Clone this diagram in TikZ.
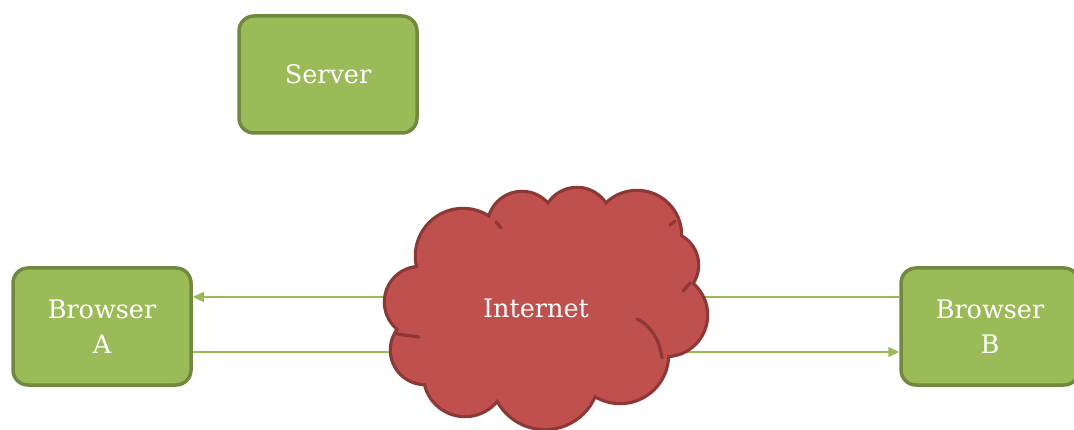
\documentclass[tikz,border=0pt]{standalone}
\usepackage{fontspec}
\setmainfont{DejaVu Serif}
\usetikzlibrary{arrows.meta}
\definecolor{boxfill}{HTML}{9BBB59}
\definecolor{boxline}{HTML}{71893F}
\definecolor{linkline}{HTML}{9BBB59}
\definecolor{cloudfill}{HTML}{C0504D}
\definecolor{cloudline}{HTML}{8C3836}
\tikzset{
  host/.style={draw=boxline, fill=boxfill, line width=3.5pt, rounded corners=15pt,
    minimum width=178pt, minimum height=117pt, text=white, align=center,
    font=\fontsize{25.5}{35}\selectfont},
  label/.style={text=white, font=\fontsize{25.5}{35}\selectfont},
  link/.style={draw=linkline, line width=1.5pt},
  tip/.style={-{Triangle[length=11pt,width=10pt]}},
}
\begin{document}
\begin{tikzpicture}[x=1pt,y=-1pt]
\useasboundingbox (0,0) rectangle (1074,430);
\clip (0,0) rectangle (1074,430);

% hosts
\node[host] (server) at (328,74.5) {Server};
\node[host] (browserA) at (102,326.5) {Browser\\A};
\node[host] (browserB) at (990,326.5) {Browser\\B};

% points where the links meet the cloud
\coordinate (cTL) at (400,297);
\coordinate (cBL) at (405,352);
\coordinate (cTR) at (690,297);
\coordinate (cBR) at (680,352);

% links
\draw[link,tip] (cTL) -- (browserA.east |- cTL);
\draw[link] (browserA.east |- cBL) -- (cBL);
\draw[link] (cTR) -- (browserB.west |- cTR);
\draw[link,tip] (cBR) -- (browserB.west |- cBR);

% cloud: outline of a union of circles
\def\lobes{
  (463,256) circle[radius=46]
  (522,226) circle[radius=33]
  (577,222) circle[radius=33]
  (637,235) circle[radius=43]
  (665,265) circle[radius=32]
  (666,315) circle[radius=40]
  (620,355) circle[radius=47]
  (545,375) circle[radius=53]
  (465,375) circle[radius=40]
  (425,350) circle[radius=33]
  (420,302) circle[radius=34]
}
\def\core{
  (463,256) -- (522,226) -- (577,222) -- (637,235) -- (665,265) -- (666,315)
  -- (620,355) -- (545,375) -- (465,375) -- (425,350) -- (420,302) -- cycle
}
\draw[cloudline, line width=6.5pt] \lobes;
\fill[cloudfill] \lobes;
\fill[cloudfill] \core;
% inner creases of the cloud
\draw[cloudline, line width=3.25pt, line cap=round]
  (637,319) .. controls (652,326) and (660,342) .. (662,358);
\draw[cloudline, line width=3.25pt, line cap=round] (397,334) -- (419,337);
\draw[cloudline, line width=3.25pt, line cap=round] (496,222) -- (501,228);
\draw[cloudline, line width=3.25pt, line cap=round] (670,225) -- (675,221);
\draw[cloudline, line width=3.25pt, line cap=round] (683,291) -- (690,283);
\node[label] (internet) at (536,308) {Internet};
\end{tikzpicture}
\end{document}
